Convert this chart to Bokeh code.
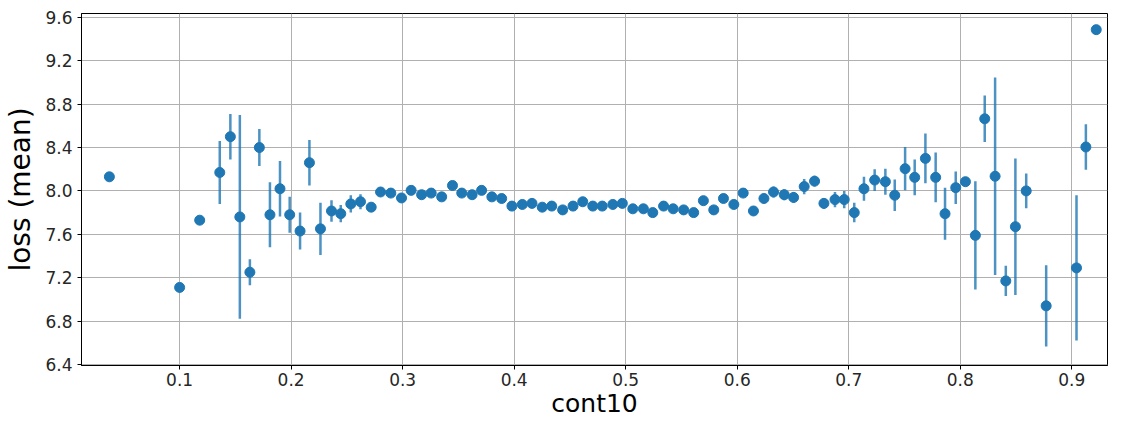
from bokeh.plotting import figure
from bokeh.models import ColumnDataSource, FixedTicker, NumeralTickFormatter, Range1d
from bokeh.embed import file_html
from bokeh.resources import INLINE

cont10 = [0.037, 0.100, 0.118, 0.136, 0.1455, 0.154, 0.163, 0.1715, 0.181, 0.190,
          0.1987, 0.208, 0.2164, 0.2263, 0.2362, 0.2445, 0.2535, 0.2622, 0.2718, 0.2802,
          0.2894, 0.299, 0.3076, 0.317, 0.3256, 0.335, 0.3447, 0.353, 0.3623, 0.3708,
          0.380, 0.3888, 0.398, 0.4073, 0.416, 0.4252, 0.4337, 0.4435, 0.4528, 0.4615,
          0.4705, 0.479, 0.4885, 0.497, 0.5064, 0.5159, 0.5243, 0.534, 0.5426, 0.552,
          0.561, 0.5697, 0.579, 0.5877, 0.597, 0.6054, 0.6146, 0.624, 0.6326, 0.6422,
          0.6506, 0.6601, 0.6694, 0.6778, 0.6877, 0.696, 0.705, 0.7137, 0.7233, 0.7329,
          0.7413, 0.7506, 0.7592, 0.7688, 0.778, 0.7864, 0.796, 0.8047, 0.8136, 0.822,
          0.8313, 0.8409, 0.8495, 0.8592, 0.8771, 0.9043, 0.9127, 0.922]

loss_mean = [8.13, 7.11, 7.73, 8.17, 8.50, 7.76, 7.25, 8.40, 7.78, 8.02,
             7.78, 7.63, 8.26, 7.65, 7.815, 7.79, 7.88, 7.90, 7.85, 7.99,
             7.98, 7.935, 8.005, 7.965, 7.98, 7.945, 8.05, 7.98, 7.965, 8.005,
             7.945, 7.93, 7.86, 7.875, 7.885, 7.85, 7.86, 7.825, 7.86, 7.90,
             7.86, 7.86, 7.875, 7.885, 7.835, 7.835, 7.80, 7.86, 7.835, 7.825,
             7.80, 7.91, 7.825, 7.93, 7.875, 7.98, 7.815, 7.93, 7.99, 7.965,
             7.94, 8.04, 8.09, 7.885, 7.92, 7.92, 7.80, 8.02, 8.10, 8.085,
             7.96, 8.205, 8.125, 8.30, 8.125, 7.79, 8.03, 8.085, 7.59, 8.665,
             8.135, 7.17, 7.67, 8.00, 6.94, 7.29, 8.405, 9.487]

loss_err = [0.0, 0.0, 0.0, 0.29, 0.21, 0.94, 0.12, 0.17, 0.30, 0.255,
            0.165, 0.17, 0.21, 0.24, 0.10, 0.08, 0.08, 0.07, 0.04, 0.03,
            0.02, 0.02, 0.02, 0.02, 0.02, 0.02, 0.02, 0.02, 0.02, 0.02,
            0.02, 0.02, 0.02, 0.02, 0.02, 0.02, 0.02, 0.02, 0.02, 0.02,
            0.02, 0.02, 0.02, 0.02, 0.02, 0.02, 0.02, 0.02, 0.02, 0.02,
            0.02, 0.02, 0.02, 0.02, 0.02, 0.03, 0.04, 0.04, 0.05, 0.05,
            0.05, 0.07, 0.05, 0.05, 0.07, 0.08, 0.09, 0.11, 0.10, 0.12,
            0.145, 0.20, 0.165, 0.23, 0.23, 0.24, 0.15, 0.04, 0.50, 0.215,
            0.91, 0.14, 0.63, 0.16, 0.375, 0.67, 0.21, 0.0]

x_ticks = [0.1, 0.2, 0.3, 0.4, 0.5, 0.6, 0.7, 0.8, 0.9]
y_ticks = [6.4, 6.8, 7.2, 7.6, 8.0, 8.4, 8.8, 9.2, 9.6]

src = ColumnDataSource(dict(
    x=cont10, y=loss_mean,
    lo=[m - e for m, e in zip(loss_mean, loss_err)],
    hi=[m + e for m, e in zip(loss_mean, loss_err)],
))

p = figure(width=1108, height=420, output_backend="svg", toolbar_location=None,
           x_range=Range1d(0.012, 0.9321), y_range=Range1d(6.39, 9.636),
           min_border_left=81, min_border_right=1, min_border_top=13, min_border_bottom=30)

p.segment(x0="x", y0="lo", x1="x", y1="hi", source=src, line_color="#1f77b4",
          line_width=2.5, line_alpha=0.8)
p.scatter(x="x", y="y", source=src, size=10, fill_color="#1f77b4", line_color="#1f77b4")

font = "DejaVu Sans"
p.xaxis.ticker = FixedTicker(ticks=x_ticks)
p.yaxis.ticker = FixedTicker(ticks=y_ticks)
p.xaxis.formatter = NumeralTickFormatter(format="0.0")
p.yaxis.formatter = NumeralTickFormatter(format="0.0")
p.xaxis.axis_label = "cont10"
p.yaxis.axis_label = "loss (mean)"
for ax in (p.xaxis, p.yaxis):
    ax.axis_label_text_font = font
    ax.axis_label_text_font_style = "normal"
    ax.axis_label_text_color = "#000000"
    ax.axis_label_text_line_height = 0.9
    ax.major_label_text_font = font
    ax.major_label_text_font_size = "17px"
    ax.major_label_text_color = "#262626"
    ax.major_label_text_line_height = 1.0
    ax.axis_line_color = "#000000"
    ax.major_tick_line_color = "#000000"
    ax.major_tick_out = 4
    ax.major_tick_in = 0
    ax.minor_tick_line_color = None
p.xaxis.axis_label_text_font_size = "25px"
p.yaxis.axis_label_text_font_size = "28px"
p.xaxis.major_label_standoff = 3
p.yaxis.major_label_standoff = 5
p.xaxis.axis_label_standoff = 0
p.yaxis.axis_label_standoff = 5

p.xgrid.ticker = FixedTicker(ticks=x_ticks)
p.ygrid.ticker = FixedTicker(ticks=y_ticks)
p.grid.grid_line_color = "#b0b0b0"
p.grid.grid_line_width = 1
p.grid.grid_line_alpha = 1.0
p.outline_line_color = "#000000"
p.outline_line_width = 1
p.background_fill_color = "white"
p.border_fill_color = "white"

open("out.html", "w").write(file_html(p, INLINE))
